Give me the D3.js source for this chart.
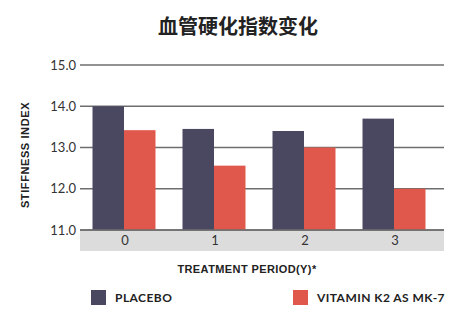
<!DOCTYPE html>
<html>
<head>
<meta charset="utf-8">
<script src="https://cdn.jsdelivr.net/npm/d3@7"></script>
<style>
  html, body { margin: 0; padding: 0; background: #fff; }
  svg { display: block; }
</style>
</head>
<body>
<svg id="chart" width="467" height="323"></svg>
<script>
// Stiffness index by treatment year, placebo vs. vitamin K2
const periods = ["0", "1", "2", "3"];
const seriesNames = ["PLACEBO", "VITAMIN K2 AS MK-7"];
const placebo = [14.0, 13.45, 13.4, 13.7];
const vitaminK2 = [13.42, 12.56, 13.0, 12.0];
const yTicks = [11, 12, 13, 14, 15];
const colors = ["#4a4861", "#e0584b"];

const svg = d3.select("#chart");

const plotLeft = 80, plotRight = 444, plotTop = 65, plotBottom = 230;

const x = d3.scaleBand().domain(periods).range([79, 439])
  .paddingInner(0.3).paddingOuter(0.15);
const xSub = d3.scaleBand().domain(seriesNames).range([0, x.bandwidth()]);
const y = d3.scaleLinear().domain([11, 15]).range([plotBottom, plotTop]);

// Title
svg.append("text")
  .attr("x", 238).attr("y", 34)
  .attr("text-anchor", "middle")
  .style("font-family", "'Noto Sans CJK SC', sans-serif")
  .style("font-weight", "700")
  .style("font-size", "20px")
  .style("fill", "#222")
  .text("血管硬化指数变化");

// Grey band beneath the baseline
svg.append("rect")
  .attr("x", plotLeft).attr("y", plotBottom)
  .attr("width", plotRight - plotLeft).attr("height", 21)
  .attr("fill", "#dcdcdc");

// Gridlines
svg.append("g").selectAll("line").data(yTicks).join("line")
  .attr("x1", plotLeft).attr("x2", plotRight)
  .attr("y1", d => y(d)).attr("y2", d => y(d))
  .attr("stroke", "#6e6e6e").attr("stroke-width", 1.6);

// Y tick labels
svg.append("g").selectAll("text").data(yTicks).join("text")
  .attr("x", 76).attr("y", d => y(d))
  .attr("dy", "0.36em")
  .attr("text-anchor", "end")
  .style("font-family", "Lato, sans-serif")
  .style("font-size", "13px")
  .style("fill", "#333")
  .text(d => d3.format(".1f")(d));

// Bars
const rows = periods.map((p, i) => ({ period: p, values: [placebo[i], vitaminK2[i]] }));
const groups = svg.append("g").selectAll("g").data(rows).join("g")
  .attr("transform", d => `translate(${x(d.period)},0)`);
groups.selectAll("rect")
  .data(d => d.values.map((v, j) => ({ name: seriesNames[j], value: v, j })))
  .join("rect")
  .attr("x", d => xSub(d.name))
  .attr("width", xSub.bandwidth())
  .attr("y", d => y(d.value))
  .attr("height", d => y(11) - y(d.value))
  .attr("fill", d => colors[d.j]);

// Baseline drawn over bars
svg.append("line")
  .attr("x1", plotLeft).attr("x2", plotRight)
  .attr("y1", y(11)).attr("y2", y(11))
  .attr("stroke", "#6e6e6e").attr("stroke-width", 1.6);

// X tick labels
svg.append("g").selectAll("text").data(periods).join("text")
  .attr("x", d => x(d) + x.bandwidth() / 2 + 1)
  .attr("y", 245)
  .attr("text-anchor", "middle")
  .style("font-family", "Lato, sans-serif")
  .style("font-size", "13px")
  .style("fill", "#333")
  .text(d => d);

// Axis titles
svg.append("text")
  .attr("x", 247).attr("y", 273)
  .attr("text-anchor", "middle")
  .style("font-family", "'Liberation Sans', Arial, sans-serif")
  .style("font-weight", "700")
  .style("font-size", "11px")
  .style("letter-spacing", "0.4px")
  .style("fill", "#222")
  .text("TREATMENT PERIOD(Y)*");

svg.append("text")
  .attr("transform", "translate(29,155) rotate(-90)")
  .attr("text-anchor", "middle")
  .style("font-family", "'Liberation Sans', Arial, sans-serif")
  .style("font-weight", "700")
  .style("font-size", "11px")
  .style("letter-spacing", "0.6px")
  .style("fill", "#222")
  .text("STIFFNESS INDEX");

// Legend
const legendX = [91, 293];
const legend = svg.append("g").selectAll("g").data(seriesNames).join("g")
  .attr("transform", (d, i) => `translate(${legendX[i]},290)`);
legend.append("rect")
  .attr("width", 15).attr("height", 15)
  .attr("fill", (d, i) => colors[i]);
legend.append("text")
  .attr("x", 24).attr("y", 7.5).attr("dy", "0.36em")
  .style("font-family", "Lato, sans-serif")
  .style("font-weight", "700")
  .style("font-size", "12px")
  .style("letter-spacing", "0.45px")
  .style("fill", "#222")
  .text(d => d);
</script>
</body>
</html>
